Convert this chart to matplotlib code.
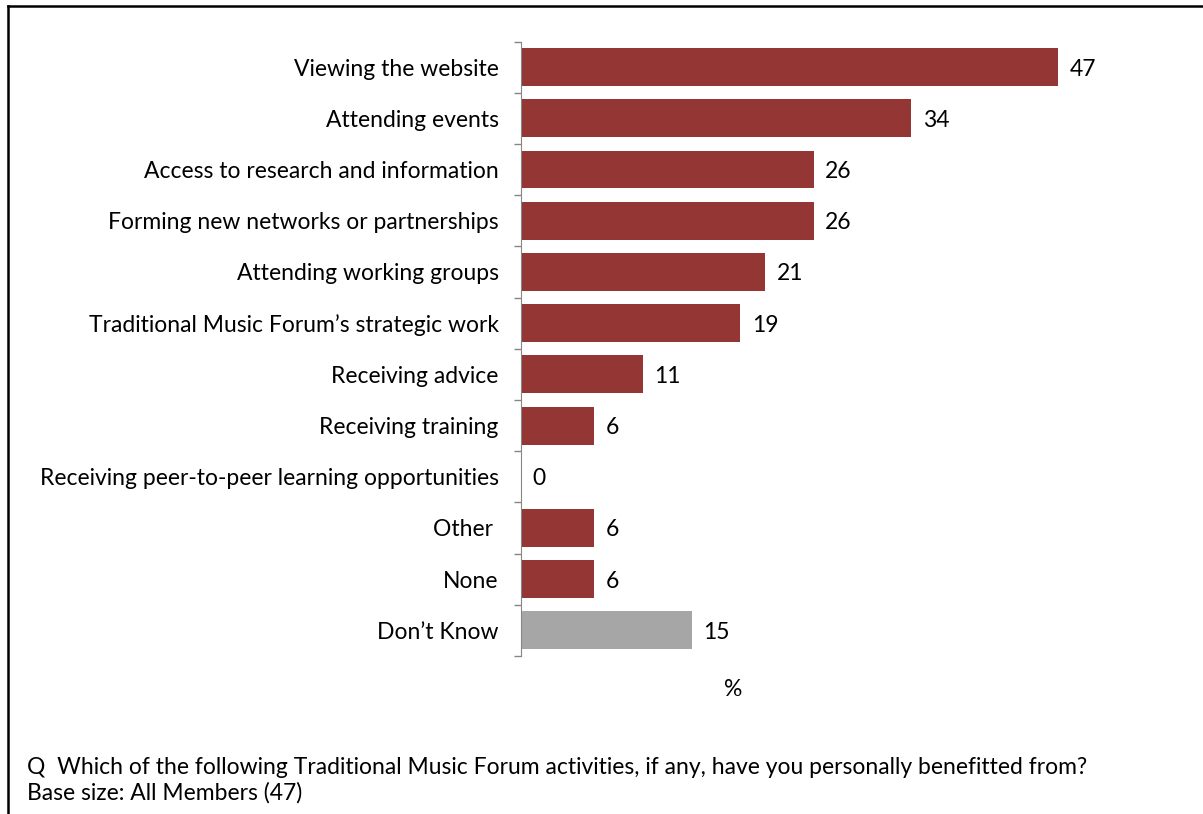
import matplotlib
matplotlib.use("Agg")
import matplotlib.pyplot as plt
from matplotlib.lines import Line2D
import numpy as np

plt.rcParams['font.family'] = ['Lato', 'DejaVu Sans']

categories = [
    "Viewing the website",
    "Attending events",
    "Access to research and information",
    "Forming new networks or partnerships",
    "Attending working groups",
    "Traditional Music Forum\u2019s strategic work",
    "Receiving advice",
    "Receiving training",
    "Receiving peer-to-peer learning opportunities",
    "Other ",
    "None",
    "Don\u2019t Know",
]
values = [46.8, 34.0, 25.5, 25.5, 21.3, 19.1, 10.6, 6.4, 0, 6.4, 6.4, 14.9]
value_labels = ["47", "34", "26", "26", "21", "19", "11", "6", "0", "6", "6", "15"]
colors = ["#943634"] * 11 + ["#A6A6A6"]

FS = 16.5
px_per_unit = 537 / 46.8
x_right = 521 + 50 * px_per_unit

fig = plt.figure(figsize=(12.03, 8.14), dpi=100)
ax = fig.add_axes([521 / 1203, 1 - 656 / 814, (x_right - 521) / 1203, (656 - 41.5) / 814])

y = np.arange(len(categories))
ax.barh(y, values, height=0.74, color=colors)
ax.set_ylim(len(categories) - 0.5, -0.5)
ax.set_xlim(0, 50)

ax.set_yticks(y)
ax.set_yticklabels(categories, fontsize=FS)
ax.set_yticks(np.arange(-0.5, len(categories), 1), minor=True)
ax.tick_params(axis='y', which='major', length=0, pad=16)
ax.tick_params(axis='y', which='minor', length=5, color='#868686', width=1, direction='out')
ax.set_xticks([])
for s in ['top', 'right', 'bottom']:
    ax.spines[s].set_visible(False)
ax.spines['left'].set_color('#868686')

for yi, v, lab in zip(y, values, value_labels):
    ax.text(v + 1.0, yi, lab, va='center_baseline', ha='left', fontsize=FS)

fig.text(733 / 1203, 1 - 690 / 814, "%", ha='center', va='center', fontsize=FS)
fig.text(27 / 1203, 1 - 767 / 814,
         "Q  Which of the following Traditional Music Forum activities, if any, have you personally benefitted from?",
         ha='left', va='center', fontsize=FS)
fig.text(27 / 1203, 1 - 793 / 814, "Base size: All Members (47)", ha='left', va='center', fontsize=FS)

fig.add_artist(Line2D([8 / 1203, 1], [1 - 6 / 814, 1 - 6 / 814], color='black', lw=1.8, transform=fig.transFigure))
fig.add_artist(Line2D([8 / 1203, 8 / 1203], [0, 1 - 6 / 814], color='black', lw=1.8, transform=fig.transFigure))

fig.savefig("out.png", dpi=100)
